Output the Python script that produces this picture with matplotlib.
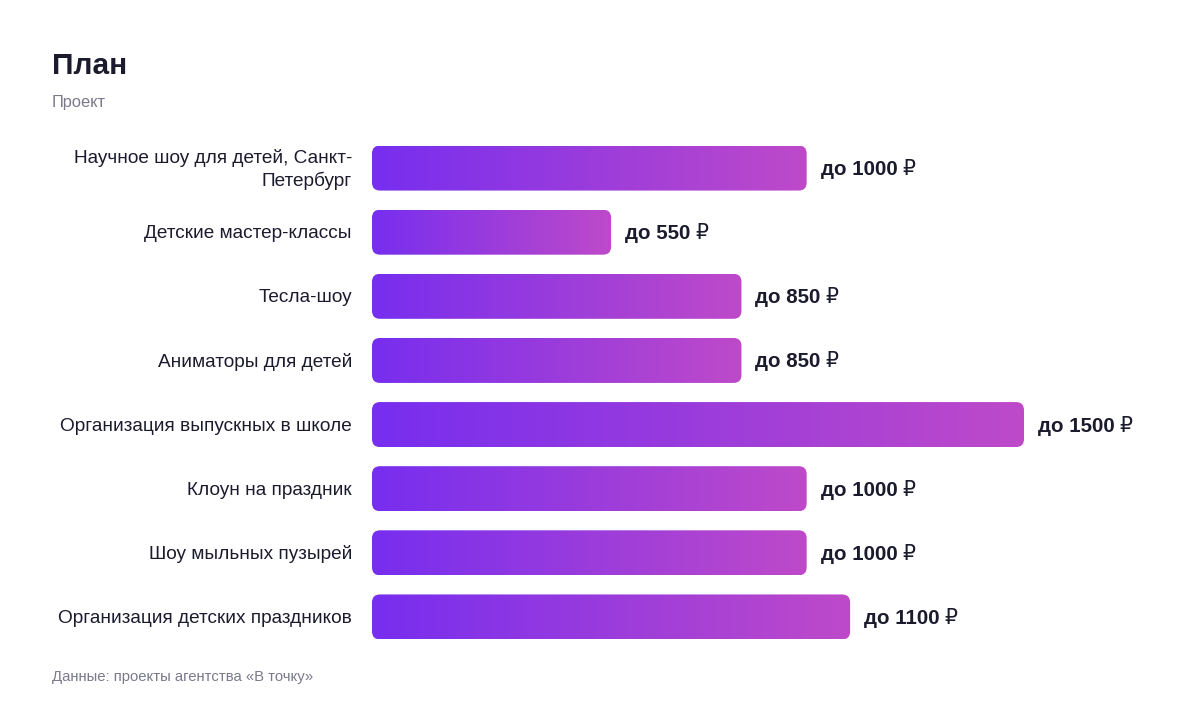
import matplotlib
matplotlib.use("Agg")
import matplotlib.pyplot as plt
import numpy as np
from matplotlib.patches import FancyBboxPatch
from matplotlib.colors import LinearSegmentedColormap

categories = [
    "Научное шоу для детей, Санкт-\nПетербург",
    "Детские мастер-классы",
    "Тесла-шоу",
    "Аниматоры для детей",
    "Организация выпускных в школе",
    "Клоун на праздник",
    "Шоу мыльных пузырей",
    "Организация детских праздников",
]
values = [1000, 550, 850, 850, 1500, 1000, 1000, 1100]
value_labels = ["до 1000", "до 550", "до 850", "до 850",
                "до 1500", "до 1000", "до 1000", "до 1100"]
currency = "₽"

title = "План"
subtitle = "Проект"
footer = "Данные: проекты агентства «В точку»"

FONT = ["Liberation Sans", "DejaVu Sans"]
plt.rcParams["font.family"] = FONT

W, H = 1200, 712
fig = plt.figure(figsize=(W / 100, H / 100), dpi=100)
fig.patch.set_facecolor("white")

ax_left, ax_right = 372, 1024
ax_top, ax_bottom = 136, 649
ax = fig.add_axes([ax_left / W, 1 - ax_bottom / H, (ax_right - ax_left) / W, (ax_bottom - ax_top) / H])
xmax = 1500
ax.set_xlim(0, xmax)
n = len(categories)
ax.set_ylim(n - 0.5, -0.5)
ax.axis("off")

px_per_x = (ax_right - ax_left) / xmax
px_per_y = (ax_bottom - ax_top) / n
bar_h = 45 / px_per_y
radius_px = 8
rounding = radius_px / px_per_x
aspect = px_per_x / px_per_y
dy = 1.5 / px_per_y

cmap = LinearSegmentedColormap.from_list("g", ["#772EEF", "#BE4AC9"])
grad = np.linspace(0, 1, 256).reshape(1, -1)

dark = "#1C1B2E"
renderer = fig.canvas.get_renderer()
for i, (v, lab, vl) in enumerate(zip(values, categories, value_labels)):
    y0 = i - bar_h / 2
    patch = FancyBboxPatch((0, y0), v, bar_h,
                           boxstyle=f"round,pad=0,rounding_size={rounding}",
                           mutation_aspect=aspect,
                           facecolor="none", edgecolor="none")
    ax.add_patch(patch)
    im = ax.imshow(grad, cmap=cmap, aspect="auto",
                   extent=(0, v, i + bar_h / 2, i - bar_h / 2), zorder=2)
    im.set_clip_path(patch)
    ax.text(-20 / px_per_x, i + dy, lab, ha="right", va="center", fontsize=13.7,
            color=dark, linespacing=1.3)
    t = ax.text(v + 14 / px_per_x, i + dy, vl, ha="left", va="center", fontsize=14.8,
                fontweight="bold", color=dark, clip_on=False)
    bb = t.get_window_extent(renderer=renderer)
    wdata = bb.width / px_per_x
    ax.text(v + 14 / px_per_x + wdata + 5 / px_per_x, i + dy, currency, ha="left",
            va="center", fontsize=14.8, color=dark, clip_on=False)

fig.text(52 / W, 1 - 66 / H, title, ha="left", va="center", fontsize=21.5,
         fontweight="bold", color=dark)
fig.text(52 / W, 1 - 102 / H, subtitle, ha="left", va="center", fontsize=11.8,
         color="#7A7A8C")
fig.text(52 / W, 1 - 677 / H, footer, ha="left", va="center", fontsize=10.7,
         color="#7A7A8C")

fig.savefig("out.png", dpi=100, facecolor="white")
